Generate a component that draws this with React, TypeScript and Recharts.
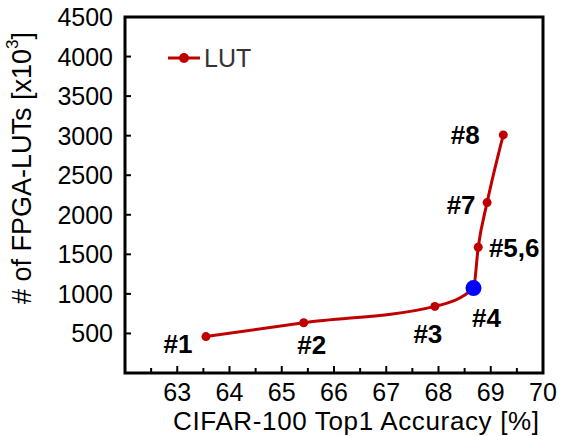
import React from 'react';
import { LineChart, Line, XAxis, YAxis, ReferenceArea } from 'recharts';

const accuracy = [63.55, 65.42, 67.93, 68.67, 68.76, 68.93, 69.24];
const luts = [460, 635, 842, 1073, 1589, 2154, 3010];
const pointLabels = ['#1', '#2', '#3', '#4', '#5,6', '#7', '#8'];
const highlightIndex = 3;
const xTickLabels = [63, 64, 65, 66, 67, 68, 69, 70];
const yTickLabels = [500, 1000, 1500, 2000, 2500, 3000, 3500, 4000, 4500];
const seriesName = 'LUT';

// label offsets relative to each point: [dx, dy]
const labelOffsets = [
  [-28, 16],
  [8, 31],
  [-7, 37],
  [13, 39],
  [36, 10],
  [-26, 11],
  [-38, 9],
];

const data = accuracy.map((x, i) => ({ x, y: luts[i], label: pointLabels[i] }));

// minor ticks every 0.5 between the labelled ones
const xTicks: number[] = [62.5];
xTickLabels.forEach((v) => {
  xTicks.push(v);
  if (v < 70) xTicks.push(v + 0.5);
});

const RED = '#C00000';
const FONT = '"Liberation Sans", Arial, sans-serif';

const XTick = ({ x, y, payload }: any) => {
  const major = xTickLabels.includes(payload.value);
  return (
    <g>
      <line x1={x} x2={x} y1={y} y2={y - (major ? 7 : 5)} stroke="#000" strokeWidth={2} />
      {major && (
        <text x={x} y={y + 28} textAnchor="middle" fontSize={25} fill="#000" fontFamily={FONT}>
          {payload.value}
        </text>
      )}
    </g>
  );
};

const YTick = ({ x, y, payload }: any) => (
  <g>
    <line x1={x} x2={x + 6} y1={y} y2={y} stroke="#000" strokeWidth={2} />
    <text x={x - 12} y={y + 9} textAnchor="end" fontSize={25} fill="#000" fontFamily={FONT}>
      {payload.value}
    </text>
  </g>
);

const Dot = ({ cx, cy, index }: any) => {
  const hi = index === highlightIndex;
  const [dx, dy] = labelOffsets[index];
  return (
    <g>
      <circle cx={cx} cy={cy} r={hi ? 8 : 4.5} fill={hi ? '#0000FF' : RED} stroke="none" />
      <text x={cx + dx} y={cy + dy} textAnchor="middle" fontSize={26} fontWeight="bold" fill="#000" fontFamily={FONT}>
        {pointLabels[index]}
      </text>
    </g>
  );
};

const App: React.FC = () => (
  <div style={{ position: 'absolute', left: 0, top: 0, width: 561, height: 436 }}>
    <LineChart width={561} height={436} data={data} margin={{ top: 17, right: 18, bottom: 0, left: 0 }}>
      <ReferenceArea x1={62} x2={70} y1={0} y2={4500} fill="none" stroke="#000" strokeWidth={3} ifOverflow="visible" />
      <XAxis
        type="number"
        dataKey="x"
        domain={[62, 70]}
        ticks={xTicks}
        interval={0}
        height={63}
        axisLine={false}
        tickLine={false}
        tickSize={0}
        tickMargin={0}
        tick={<XTick />}
        allowDataOverflow
        label={{
          content: () => (
            <text
              x={356}
              y={430}
              textAnchor="middle"
              fontSize={26}
              textLength={366}
              lengthAdjust="spacing"
              fill="#000"
              fontFamily={FONT}
            >
              CIFAR-100 Top1 Accuracy [%]
            </text>
          ),
        }}
      />
      <YAxis
        type="number"
        domain={[0, 4500]}
        ticks={yTickLabels}
        interval={0}
        width={125}
        axisLine={false}
        tickLine={false}
        tickSize={0}
        tickMargin={0}
        tick={<YTick />}
        allowDataOverflow
        label={{
          content: () => (
            <text
              x={22}
              y={168}
              transform="rotate(-90 22 168)"
              textAnchor="middle"
              dominantBaseline="central"
              fontSize={27}
              fill="#000"
              fontFamily={FONT}
            >
              # of FPGA-LUTs [x10<tspan dy={-10} fontSize={17}>3</tspan><tspan dy={10}>]</tspan>
            </text>
          ),
        }}
      />
      <Line
        type="monotoneX"
        dataKey="y"
        name={seriesName}
        stroke={RED}
        strokeWidth={3}
        dot={<Dot />}
        activeDot={false}
        isAnimationActive={false}
      />
    </LineChart>
    <svg width={100} height={32} style={{ position: 'absolute', left: 166, top: 43 }}>
      <line x1={2} x2={34} y1={15} y2={15} stroke={RED} strokeWidth={3} />
      <circle cx={18} cy={15} r={5} fill={RED} />
      <text x={38} y={24} fontSize={25} fill="#333" fontFamily={FONT}>{seriesName}</text>
    </svg>
  </div>
);

export default App;
